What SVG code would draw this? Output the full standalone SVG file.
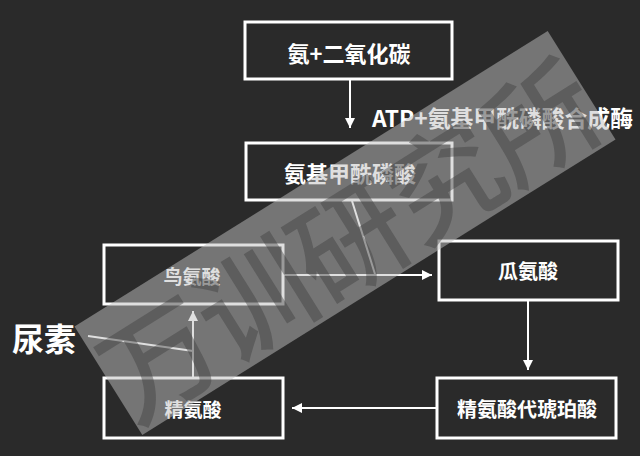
<svg xmlns="http://www.w3.org/2000/svg" width="640" height="456" viewBox="0 0 640 456">
  <defs>
    <marker id="arrow" viewBox="0 0 10 10" refX="10" refY="5" markerWidth="10" markerHeight="10" markerUnits="userSpaceOnUse" orient="auto">
      <path d="M0,0 L10,5 L0,10 z" fill="#ffffff"/>
    </marker>
    <clipPath id="band">
      <rect x="-279" y="-64" width="558" height="128"/>
    </clipPath>
  </defs>
  <style>
    .box { fill: none; stroke: #ffffff; stroke-width: 3; }
    .t { fill: #ffffff; font-family: "Noto Sans CJK SC", "Liberation Sans", sans-serif; font-weight: bold; text-anchor: middle; dominant-baseline: central; }
    .lg { font-size: 22px; }
    .sm { font-size: 19px; }
    .ln { stroke: #ffffff; stroke-width: 2; fill: none; }
    .wm { fill: #3c3c3c; fill-opacity: 0.42; font-family: "Noto Sans CJK SC", sans-serif; font-weight: 500; font-size: 114px; text-anchor: middle; dominant-baseline: central; }
  </style>
  <rect x="0" y="0" width="640" height="456" fill="#2a2a2a"/>

  <g id="n-ammonia-co2">
    <rect class="box" x="245" y="22" width="207" height="57"/>
    <text class="t lg" x="349" y="52">氨+二氧化碳</text>
  </g>
  <g id="n-carbamoyl-phosphate">
    <rect class="box" x="246" y="143" width="206" height="57"/>
    <text class="t lg" x="350" y="172">氨基甲酰磷酸</text>
  </g>
  <g id="n-ornithine">
    <rect class="box" x="104" y="245" width="179" height="59"/>
    <text class="t sm" x="192" y="275">鸟氨酸</text>
  </g>
  <g id="n-citrulline">
    <rect class="box" x="439" y="241" width="179" height="59"/>
    <text class="t sm" x="528" y="270" style="font-size:20px">瓜氨酸</text>
  </g>
  <g id="n-arginine">
    <rect class="box" x="104" y="378" width="179" height="60"/>
    <text class="t sm" x="193" y="408">精氨酸</text>
  </g>
  <g id="n-argininosuccinate">
    <rect class="box" x="437" y="378" width="179" height="60"/>
    <text class="t sm" x="527" y="408" style="font-size:20px">精氨酸代琥珀酸</text>
  </g>
  <g id="n-urea">
    <text class="t" x="44" y="337" style="font-size:32px">尿素</text>
  </g>

  <g id="connectors">
    <line class="ln" x1="350" y1="80" x2="350" y2="128" marker-end="url(#arrow)"/>
    <text class="t" x="372" y="117" style="text-anchor:start;font-size:22.8px">ATP+氨基甲酰磷酸合成酶</text>
    <line class="ln" x1="283" y1="275" x2="432" y2="275" marker-end="url(#arrow)"/>
    <line class="ln" x1="352" y1="201" x2="375" y2="274"/>
    <line class="ln" x1="528" y1="301" x2="528" y2="370" marker-end="url(#arrow)"/>
    <line class="ln" x1="436" y1="408" x2="292" y2="408" marker-end="url(#arrow)"/>
    <line class="ln" x1="193" y1="377" x2="193" y2="311" marker-end="url(#arrow)"/>
    <line class="ln" x1="88" y1="336" x2="193" y2="351"/>
  </g>

  <g id="watermark" transform="translate(345 233) rotate(-32)">
    <rect x="-279" y="-64" width="558" height="128" fill="#c0c0c0" fill-opacity="0.5"/>
    <g clip-path="url(#band)">
      <text class="wm" x="-224" y="2">万</text>
      <text class="wm" x="-112" y="2">训</text>
      <text class="wm" x="0" y="2">研</text>
      <text class="wm" x="112" y="2">究</text>
      <text class="wm" x="224" y="2">所</text>
    </g>
  </g>
</svg>
